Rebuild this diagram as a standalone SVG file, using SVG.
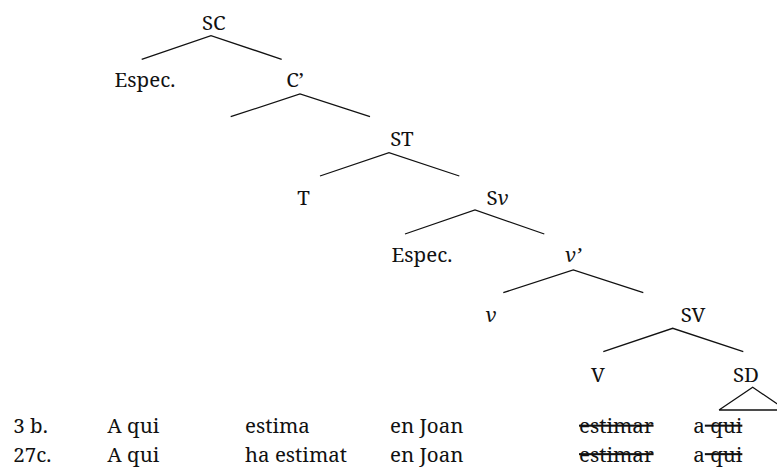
<svg xmlns="http://www.w3.org/2000/svg" width="777" height="473" viewBox="0 0 777 473">
<style>
.edge{stroke:#111;stroke-width:1.3;fill:none}
.s{text-decoration:line-through}
</style>
<rect width="777" height="473" fill="#fff"/>
<g id="connectors">
<polyline class="edge" points="141.7,59.3 211,35.7 281.7,59.3"/>
<polyline class="edge" points="230.7,116.7 300,94 370,116.7"/>
<polyline class="edge" points="320,176 389,152.7 459.3,176"/>
<polyline class="edge" points="405,234 475,210 544.3,234"/>
<polyline class="edge" points="503.3,292.7 573.3,270 643.3,292.7"/>
<polyline class="edge" points="603.3,351.7 672.7,328.3 743.3,351.7"/>
<polyline class="edge" points="719,410 752.7,387.3 786.4,410 719,410"/>
</g>
<g id="SC"><text x="213.8" y="30" text-anchor="middle" font-family="Noto Serif, Liberation Serif, serif" font-size="20.5" fill="#111">SC</text></g>
<g id="Espec1"><text x="145" y="87" text-anchor="middle" font-family="Noto Serif, Liberation Serif, serif" font-size="20.5" fill="#111">Espec.</text></g>
<g id="Cbar"><text x="295" y="87" text-anchor="middle" font-family="Noto Serif, Liberation Serif, serif" font-size="20.5" fill="#111">C’</text></g>
<g id="ST"><text x="402" y="146" text-anchor="middle" font-family="Noto Serif, Liberation Serif, serif" font-size="20.5" fill="#111">ST</text></g>
<g id="T"><text x="303.5" y="205" text-anchor="middle" font-family="Noto Serif, Liberation Serif, serif" font-size="20.5" fill="#111">T</text></g>
<g id="Sv"><text x="497.5" y="205" text-anchor="middle" font-family="Noto Serif, Liberation Serif, serif" font-size="20.5" fill="#111">S<tspan font-style="italic">v</tspan></text></g>
<g id="Espec2"><text x="422" y="262" text-anchor="middle" font-family="Noto Serif, Liberation Serif, serif" font-size="20.5" fill="#111">Espec.</text></g>
<g id="vbar"><text x="573" y="262" text-anchor="middle" font-family="Noto Serif, Liberation Serif, serif" font-size="20.5" fill="#111" font-style="italic">v’</text></g>
<g id="v"><text x="491" y="321.7" text-anchor="middle" font-family="Noto Serif, Liberation Serif, serif" font-size="20.5" fill="#111" font-style="italic">v</text></g>
<g id="SV"><text x="693" y="321.7" text-anchor="middle" font-family="Noto Serif, Liberation Serif, serif" font-size="20.5" fill="#111">SV</text></g>
<g id="V"><text x="598" y="381.5" text-anchor="middle" font-family="Noto Serif, Liberation Serif, serif" font-size="20.5" fill="#111">V</text></g>
<g id="SD"><text x="746" y="381.5" text-anchor="middle" font-family="Noto Serif, Liberation Serif, serif" font-size="20.5" fill="#111">SD</text></g>
<g id="rows" font-family="Noto Serif, Liberation Serif, serif" font-size="20.5" fill="#111">
<text x="13.3" y="433" font-family="Noto Serif, Liberation Serif, serif">3 b.</text>
<text x="107.3" y="433" font-family="Noto Serif, Liberation Serif, serif">A qui</text>
<text x="245" y="433" font-family="Noto Serif, Liberation Serif, serif">estima</text>
<text x="390" y="433" font-family="Noto Serif, Liberation Serif, serif">en Joan</text>
<text x="579" y="433" font-family="Noto Serif, Liberation Serif, serif" class="s">estimar</text>
<text x="693.3" y="433" font-family="Noto Serif, Liberation Serif, serif">a<tspan class="s"> qui</tspan></text>
<text x="13.3" y="461.5" font-family="Noto Serif, Liberation Serif, serif">27c.</text>
<text x="107.3" y="461.5" font-family="Noto Serif, Liberation Serif, serif">A qui</text>
<text x="245" y="461.5" font-family="Noto Serif, Liberation Serif, serif">ha estimat</text>
<text x="390" y="461.5" font-family="Noto Serif, Liberation Serif, serif">en Joan</text>
<text x="579" y="461.5" font-family="Noto Serif, Liberation Serif, serif" class="s">estimar</text>
<text x="693.3" y="461.5" font-family="Noto Serif, Liberation Serif, serif">a<tspan class="s"> qui</tspan></text>
</g>
</svg>
